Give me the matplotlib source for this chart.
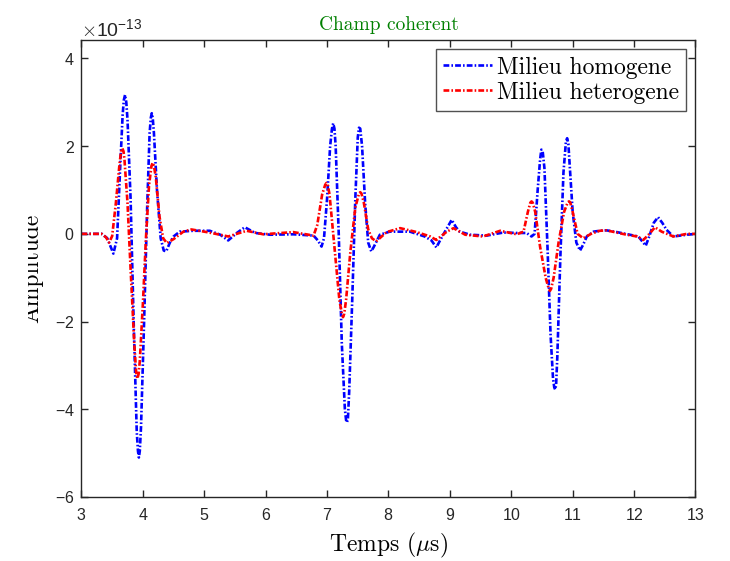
import numpy as np
import matplotlib.pyplot as plt
from matplotlib.ticker import ScalarFormatter, MultipleLocator
from matplotlib.transforms import Bbox

plt.rcParams['font.family'] = ['Liberation Sans', 'DejaVu Sans']
plt.rcParams['mathtext.fontset'] = 'cm'
plt.rcParams['axes.formatter.use_mathtext'] = True

# ── Data (amplitude in units of 1e-13) ─────────────────────
t_homo = [3.0, 3.2, 3.33, 3.42, 3.52, 3.58, 3.63, 3.67, 3.69, 3.71, 3.73, 3.75,
          3.80, 3.85, 3.90, 3.92, 3.935, 3.95, 3.97, 4.02, 4.07, 4.11, 4.13, 4.145,
          4.16, 4.18, 4.23, 4.29, 4.34, 4.38, 4.44, 4.50, 4.60, 4.82, 5.09, 5.26,
          5.39, 5.53, 5.66, 5.83, 6.07, 6.45, 6.78, 6.85, 6.91, 6.95, 7.00, 7.05,
          7.08, 7.10, 7.12, 7.14, 7.19, 7.24, 7.29, 7.31, 7.325, 7.34, 7.36, 7.41,
          7.46, 7.50, 7.52, 7.54, 7.57, 7.62, 7.67, 7.72, 7.76, 7.86, 8.02, 8.35,
          8.59, 8.70, 8.78, 8.84, 8.92, 9.03, 9.10, 9.16, 9.33, 9.60, 9.87, 10.09,
          10.25, 10.33, 10.38, 10.43, 10.47, 10.49, 10.51, 10.54, 10.59, 10.64,
          10.68, 10.70, 10.715, 10.73, 10.75, 10.80, 10.85, 10.89, 10.91, 10.93,
          10.95, 11.00, 11.06, 11.12, 11.17, 11.23, 11.34, 11.44, 11.55, 11.72,
          11.93, 12.07, 12.19, 12.25, 12.32, 12.39, 12.46, 12.53, 12.64, 12.86, 13.0]
a_homo = [0, 0, 0, -0.1, -0.45, -0.1, 1.5, 2.7, 3.05, 3.17, 3.0, 2.6,
          0.8, -2.0, -4.5, -4.95, -5.1, -4.95, -4.4, -2.0, 0.6, 2.3, 2.65, 2.75,
          2.65, 2.3, 1.0, -0.1, -0.38, -0.40, -0.2, -0.06, 0.05, 0.07, 0.07, -0.02,
          -0.15, 0.02, 0.15, 0.02, -0.02, -0.01, -0.04, -0.15, -0.29, -0.1, 0.8, 2.0,
          2.4, 2.52, 2.4, 2.0, 0.0, -2.5, -4.0, -4.25, -4.3, -4.2, -3.6, -1.5,
          0.8, 2.2, 2.42, 2.4, 2.0, 0.7, -0.2, -0.40, -0.3, -0.02, 0.05, 0.05,
          -0.06, -0.15, -0.31, -0.15, 0.05, 0.32, 0.15, 0.05, -0.02, -0.04, 0.03, 0.02,
          0.02, -0.06, 0.0, 1.0, 1.7, 1.92, 1.9, 1.5, -0.3, -2.3,
          -3.3, -3.5, -3.55, -3.45, -2.8, -0.5, 1.4, 2.1, 2.18, 2.05,
          1.6, 0.5, -0.2, -0.38, -0.25, -0.06, 0.05, 0.07, 0.08, 0.04,
          -0.02, -0.06, -0.27, -0.05, 0.25, 0.38, 0.25, 0.09, -0.06, -0.02, 0.0]

t_hete = [3.0, 3.33, 3.40, 3.45, 3.50, 3.56, 3.62, 3.645, 3.665, 3.685, 3.70, 3.75,
          3.80, 3.86, 3.89, 3.91, 3.93, 3.95, 4.00, 4.05, 4.10, 4.14, 4.16, 4.18,
          4.21, 4.27, 4.33, 4.39, 4.50, 4.66, 4.79, 5.04, 5.26, 5.39, 5.69, 5.96,
          6.45, 6.78, 6.84, 6.92, 6.97, 6.99, 7.01, 7.04, 7.12, 7.20, 7.24, 7.26,
          7.28, 7.31, 7.38, 7.46, 7.52, 7.54, 7.56, 7.60, 7.67, 7.73, 7.80, 7.97,
          8.19, 8.46, 8.68, 8.78, 8.95, 9.06, 9.25, 9.54, 9.82, 10.09, 10.20, 10.27,
          10.31, 10.33, 10.35, 10.39, 10.47, 10.56, 10.61, 10.63, 10.65, 10.69, 10.77,
          10.86, 10.92, 10.94, 10.96, 11.00, 11.08, 11.17, 11.30, 11.44, 11.55,
          11.88, 12.05, 12.15, 12.25, 12.34, 12.45, 12.64, 12.86, 13.0]
a_hete = [0, 0, -0.08, -0.2, -0.05, 0.7, 1.6, 1.88, 1.95, 1.88, 1.7, 0.7,
          -0.8, -2.5, -3.15, -3.3, -3.2, -2.9, -1.6, -0.1, 1.1, 1.55, 1.62, 1.55,
          1.3, 0.4, -0.1, -0.21, -0.12, 0.05, 0.10, 0.04, -0.02, -0.06, 0.07, -0.01,
          0.04, -0.04, 0.2, 0.9, 1.12, 1.16, 1.12, 0.9, -0.3, -1.5, -1.82, -1.9,
          -1.82, -1.5, -0.4, 0.6, 0.92, 0.95, 0.92, 0.7, 0.1, -0.1, -0.17, 0.04,
          0.13, 0.04, -0.06, -0.14, 0.05, 0.13, -0.02, -0.06, 0.07, -0.01, 0.05, 0.5,
          0.71, 0.74, 0.71, 0.5, -0.3, -1.0, -1.25, -1.3, -1.25, -1.0, -0.2,
          0.5, 0.72, 0.74, 0.72, 0.5, 0.0, -0.1, 0.0, 0.07, 0.08,
          -0.02, -0.06, -0.14, 0.0, 0.15, 0.05, -0.06, 0.0, 0.0]

scale = 1e-13
xticks = list(range(3, 14))

# ── Figure ─────────────────────────────────────────────────
fig = plt.figure(figsize=(7.3, 5.61), dpi=100)
ax = fig.add_axes([0.1116, 0.1141, 0.8411, 0.8146])

dashdot = (0, (2.2, 0.8, 0.6, 0.8))
ax.plot(t_homo, np.array(a_homo) * scale, color='blue', linestyle=dashdot,
        linewidth=1.9, label='Milieu homogene')
ax.plot(t_hete, np.array(a_hete) * scale, color='red', linestyle=dashdot,
        linewidth=1.9, label='Milieu heterogene')

ax.set_xlim(3, 13)
ax.set_ylim(-6e-13, 4.42e-13)
ax.set_xticks(xticks)
ax.yaxis.set_major_locator(MultipleLocator(2e-13))
fmt = ScalarFormatter(useMathText=True)
fmt.set_powerlimits((0, 0))
ax.yaxis.set_major_formatter(fmt)

dark = '#262626'
for s in ax.spines.values():
    s.set_color(dark)
    s.set_linewidth(1.0)
ax.tick_params(direction='in', length=5, width=1.0, colors=dark,
               labelsize=11.5, top=True, right=True)
ax.tick_params(axis='x', pad=7)
ax.tick_params(axis='y', pad=5)
ax.yaxis.get_offset_text().set_fontsize(14)
ax.yaxis.get_offset_text().set_color(dark)

ax.set_title('Champ coherent', family='cmr10', fontsize=14, color='#008000', pad=7)
ax.set_xlabel(r'Temps ($\mu$s)', family='cmr10', fontsize=17, labelpad=6)
ax.set_ylabel('Amplitude', family='cmr10', fontsize=17)
ax.yaxis.set_label_coords(-0.062, 0.5)
# the left part of the y label is cut off in the original figure
ax.yaxis.label.set_clip_box(Bbox.from_extents(28, 0, 730, 561))
ax.yaxis.label.set_clip_on(True)

leg = ax.legend(loc='upper right', prop={'family': 'cmr10', 'size': 17},
                frameon=True, fancybox=False, handlelength=2.1, handletextpad=0.2,
                borderpad=0.3, labelspacing=0.12, borderaxespad=0.4)
leg.get_frame().set_edgecolor(dark)
leg.get_frame().set_linewidth(1.0)

fig.savefig('out.png', dpi=100)
